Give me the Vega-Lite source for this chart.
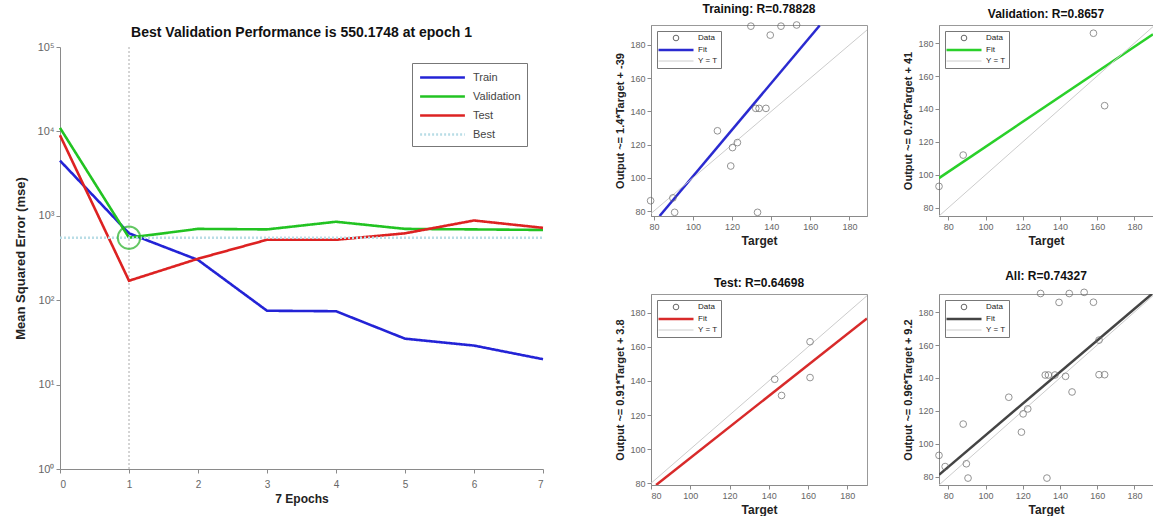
{
  "$schema": "https://vega.github.io/schema/vega-lite/v6.json",
  "background": "white",
  "padding": {"left": 14, "top": 2, "right": 0, "bottom": 0},
  "config": {
    "font": "Liberation Sans",
    "view": {"stroke": null},
    "axis": {"grid": false, "labelColor": "#666", "labelFontSize": 10, "labelOverlap": false, "domainColor": "#8a8a8a", "tickColor": "#8a8a8a", "tickSize": 4, "titleFontWeight": "bold", "titleColor": "#222", "titleFontSize": 12},
    "title": {"fontWeight": "bold", "color": "#111", "fontSize": 12, "offset": 4}
  },
  "datasets": {
    "perf": [
      {"epoch": 0, "mse": 4500, "series": "Train"},
      {"epoch": 1, "mse": 620, "series": "Train"},
      {"epoch": 2, "mse": 300, "series": "Train"},
      {"epoch": 3, "mse": 75, "series": "Train"},
      {"epoch": 4, "mse": 74, "series": "Train"},
      {"epoch": 5, "mse": 35, "series": "Train"},
      {"epoch": 6, "mse": 29, "series": "Train"},
      {"epoch": 7, "mse": 20, "series": "Train"},
      {"epoch": 0, "mse": 11000, "series": "Validation"},
      {"epoch": 1, "mse": 550.1748, "series": "Validation"},
      {"epoch": 2, "mse": 700, "series": "Validation"},
      {"epoch": 3, "mse": 690, "series": "Validation"},
      {"epoch": 4, "mse": 850, "series": "Validation"},
      {"epoch": 5, "mse": 700, "series": "Validation"},
      {"epoch": 6, "mse": 690, "series": "Validation"},
      {"epoch": 7, "mse": 680, "series": "Validation"},
      {"epoch": 0, "mse": 9000, "series": "Test"},
      {"epoch": 1, "mse": 170, "series": "Test"},
      {"epoch": 2, "mse": 310, "series": "Test"},
      {"epoch": 3, "mse": 520, "series": "Test"},
      {"epoch": 4, "mse": 520, "series": "Test"},
      {"epoch": 5, "mse": 620, "series": "Test"},
      {"epoch": 6, "mse": 880, "series": "Test"},
      {"epoch": 7, "mse": 720, "series": "Test"},
      {"epoch": 0, "mse": 550.1748, "series": "Best"},
      {"epoch": 7, "mse": 550.1748, "series": "Best"}
    ],
    "best": [{"epoch": 1, "mse": 550.1748}],
    "pts": [
      {"panel": "Training", "target": 78.3, "output": 86.2},
      {"panel": "Training", "target": 89.7, "output": 87.9},
      {"panel": "Training", "target": 90.6, "output": 79.2},
      {"panel": "Training", "target": 112.5, "output": 128.3},
      {"panel": "Training", "target": 119.3, "output": 107.1},
      {"panel": "Training", "target": 120.2, "output": 118.2},
      {"panel": "Training", "target": 122.7, "output": 121.2},
      {"panel": "Training", "target": 129.6, "output": 191.3},
      {"panel": "Training", "target": 133, "output": 79.2},
      {"panel": "Training", "target": 132.1, "output": 141.8},
      {"panel": "Training", "target": 133.8, "output": 141.8},
      {"panel": "Training", "target": 137.3, "output": 141.8},
      {"panel": "Training", "target": 139.5, "output": 185.9},
      {"panel": "Training", "target": 145, "output": 191.3},
      {"panel": "Training", "target": 153, "output": 192},
      {"panel": "Validation", "target": 75, "output": 93},
      {"panel": "Validation", "target": 88, "output": 112},
      {"panel": "Validation", "target": 158, "output": 186},
      {"panel": "Validation", "target": 164, "output": 142},
      {"panel": "Test", "target": 143, "output": 141},
      {"panel": "Test", "target": 146.5, "output": 131.5},
      {"panel": "Test", "target": 161, "output": 163},
      {"panel": "Test", "target": 161, "output": 142}
    ],
    "fits": [
      {"panel": "Training", "series": "Fit", "target": 82.9, "output": 77},
      {"panel": "Training", "series": "Fit", "target": 164.8, "output": 191.7},
      {"panel": "Training", "series": "Y = T", "target": 78.5, "output": 78.5},
      {"panel": "Training", "series": "Y = T", "target": 189, "output": 189},
      {"panel": "Validation", "series": "Fit", "target": 75, "output": 98},
      {"panel": "Validation", "series": "Fit", "target": 190, "output": 185.4},
      {"panel": "Validation", "series": "Y = T", "target": 75, "output": 75},
      {"panel": "Validation", "series": "Y = T", "target": 190, "output": 190},
      {"panel": "Test", "series": "Fit", "target": 82.6, "output": 79},
      {"panel": "Test", "series": "Fit", "target": 190, "output": 176.7},
      {"panel": "Test", "series": "Y = T", "target": 80, "output": 80},
      {"panel": "Test", "series": "Y = T", "target": 190, "output": 190},
      {"panel": "All", "series": "Fit", "target": 75, "output": 81.2},
      {"panel": "All", "series": "Fit", "target": 189.4, "output": 191},
      {"panel": "All", "series": "Y = T", "target": 75, "output": 75},
      {"panel": "All", "series": "Y = T", "target": 190, "output": 190}
    ]
  },
  "hconcat": [
    {
      "vconcat": [
        {
          "width": 483, "height": 1,
          "data": {"values": []},
          "mark": {"type": "point", "opacity": 0},
          "encoding": {}
        },
        {
          "width": 483,
          "height": 422,
          "title": {"text": "Best Validation Performance is 550.1748 at epoch 1", "fontSize": 14, "offset": 1},
          "encoding": {
            "x": {"field": "epoch", "type": "quantitative", "scale": {"domain": [0, 7], "nice": false}, "axis": {"values": [0, 1, 2, 3, 4, 5, 6, 7], "format": "d", "title": "7 Epochs", "titlePadding": 4, "labelPadding": 6, "labelOverlap": false}},
            "y": {"field": "mse", "type": "quantitative", "scale": {"type": "log", "domain": [1, 100000], "nice": false}, "axis": {"values": [1, 10, 100, 1000, 10000, 100000], "labelOverlap": false, "labelExpr": "'10' + ['⁰','¹','²','³','⁴','⁵'][round(log(datum.value)/LN10)]", "labelFontSize": 11, "title": "Mean Squared Error  (mse)", "titleFontSize": 13, "titlePadding": 10}}
          },
          "layer": [
            {
              "data": {"name": "best"},
              "mark": {"type": "rule", "color": "#aaaaaa", "strokeDash": [2, 2], "strokeWidth": 1},
              "encoding": {"y": {"value": 0}, "y2": {"value": 422}}
            },
            {
              "data": {"name": "perf"},
              "mark": {"type": "line"},
              "encoding": {
                "color": {"field": "series", "type": "nominal", "scale": {"domain": ["Train", "Validation", "Test", "Best"], "range": ["#2323d6", "#22c322", "#dd2222", "#b9dde6"]},
                  "legend": {"title": null, "orient": "top-right", "offset": 16, "symbolType": "M-3.2,0H3.2", "symbolSize": 196, "symbolOffset": 16, "labelOffset": 22, "symbolStrokeWidth": 3, "labelFontSize": 11, "labelColor": "#444", "rowPadding": 5, "padding": 6, "strokeColor": "#777", "fillColor": "white",
                    "encode": {"symbols": {"update": {"strokeDash": {"signal": "datum.value === 'Best' ? [2,2] : [1,0]"}, "strokeWidth": {"signal": "datum.value === 'Best' ? 1.5 : 3"}}}}}},
                "strokeDash": {"field": "series", "type": "nominal", "scale": {"domain": ["Train", "Validation", "Test", "Best"], "range": [[1, 0], [1, 0], [1, 0], [2, 2]]}, "legend": null},
                "strokeWidth": {"field": "series", "type": "nominal", "scale": {"domain": ["Train", "Validation", "Test", "Best"], "range": [2.6, 2.6, 2.6, 1.2]}, "legend": null}
              }
            },
            {
              "data": {"name": "best"},
              "mark": {"type": "point", "shape": "circle", "filled": false, "color": "#22b022", "size": 500, "strokeWidth": 2},
              "encoding": {}
            }
          ]
        }
      ],
      "spacing": 0,
      "resolve": {"scale": {"color": "independent", "strokeWidth": "independent", "strokeDash": "independent"}, "legend": {"color": "independent"}}
    },
    {
      "vconcat": [
        {
          "hconcat": [
            {
              "width": 216, "height": 191,
              "title": "Training: R=0.78828",
              "view": {"stroke": "#999"},
              "encoding": {
                "x": {"field": "target", "type": "quantitative", "scale": {"domain": [78.5, 189], "nice": false, "zero": false}, "axis": {"values": [80, 100, 120, 140, 160, 180], "labelOverlap": false, "title": "Target", "labelFontSize": 9}},
                "y": {"field": "output", "type": "quantitative", "scale": {"domain": [77, 192], "nice": false, "zero": false}, "axis": {"values": [80, 100, 120, 140, 160, 180], "labelOverlap": false, "title": "Output ~= 1.4*Target + -39", "labelFontSize": 9, "titleFontSize": 11}}
              },
              "layer": [
                {"data": {"name": "fits"}, "transform": [{"filter": "datum.panel === 'Training'"}],
                 "mark": {"type": "line", "clip": true},
                 "encoding": {
                   "color": {"field": "series", "type": "nominal", "scale": {"domain": ["Data", "Fit", "Y = T"], "range": ["#666", "#2a2ad0", "#cccccc"]},
                     "legend": {"title": null, "orient": "top-left", "offset": 6, "symbolType": "M-3.5,0H3.5", "symbolSize": 100, "symbolOffset": 12, "labelOffset": 18, "symbolStrokeWidth": 1, "labelFontSize": 8, "labelColor": "#222", "rowPadding": 2, "padding": 3, "strokeColor": "#777", "fillColor": "white",
                       "encode": {"symbols": {"update": {"shape": {"signal": "datum.value === 'Data' ? 'circle' : 'M-3.5,0H3.5'"}, "size": {"signal": "datum.value === 'Data' ? 32 : 100"}, "strokeWidth": {"signal": "datum.value === 'Fit' ? 2.5 : 1"}, "fill": {"value": "transparent"}}}}}},
                   "strokeWidth": {"field": "series", "type": "nominal", "scale": {"domain": ["Fit", "Y = T"], "range": [2.5, 1]}, "legend": null}
                 }},
                {"data": {"name": "pts"}, "transform": [{"filter": "datum.panel === 'Training'"}],
                 "mark": {"type": "point", "shape": "circle", "filled": false, "color": "#666", "size": 45, "strokeWidth": 1},
                 "encoding": {}}
              ]
            },
            {
              "width": 214, "height": 191,
              "title": "Validation: R=0.8657",
              "view": {"stroke": "#999"},
              "encoding": {
                "x": {"field": "target", "type": "quantitative", "scale": {"domain": [75, 190], "nice": false, "zero": false}, "axis": {"values": [80, 100, 120, 140, 160, 180], "labelOverlap": false, "title": "Target", "labelFontSize": 9}},
                "y": {"field": "output", "type": "quantitative", "scale": {"domain": [75, 191], "nice": false, "zero": false}, "axis": {"values": [80, 100, 120, 140, 160, 180], "labelOverlap": false, "title": "Output ~= 0.76*Target + 41", "labelFontSize": 9, "titleFontSize": 11}}
              },
              "layer": [
                {"data": {"name": "fits"}, "transform": [{"filter": "datum.panel === 'Validation'"}],
                 "mark": {"type": "line", "clip": true},
                 "encoding": {
                   "color": {"field": "series", "type": "nominal", "scale": {"domain": ["Data", "Fit", "Y = T"], "range": ["#666", "#2ad02a", "#cccccc"]},
                     "legend": {"title": null, "orient": "top-left", "offset": 6, "symbolType": "M-3.5,0H3.5", "symbolSize": 100, "symbolOffset": 12, "labelOffset": 18, "symbolStrokeWidth": 1, "labelFontSize": 8, "labelColor": "#222", "rowPadding": 2, "padding": 3, "strokeColor": "#777", "fillColor": "white",
                       "encode": {"symbols": {"update": {"shape": {"signal": "datum.value === 'Data' ? 'circle' : 'M-3.5,0H3.5'"}, "size": {"signal": "datum.value === 'Data' ? 32 : 100"}, "strokeWidth": {"signal": "datum.value === 'Fit' ? 2.5 : 1"}, "fill": {"value": "transparent"}}}}}},
                   "strokeWidth": {"field": "series", "type": "nominal", "scale": {"domain": ["Fit", "Y = T"], "range": [2.5, 1]}, "legend": null}
                 }},
                {"data": {"name": "pts"}, "transform": [{"filter": "datum.panel === 'Validation'"}],
                 "mark": {"type": "point", "shape": "circle", "filled": false, "color": "#666", "size": 45, "strokeWidth": 1},
                 "encoding": {}}
              ]
            }
          ],
          "spacing": 34,
          "resolve": {"scale": {"color": "independent", "strokeWidth": "independent"}}
        },
        {
          "hconcat": [
            {
              "width": 216, "height": 191,
              "title": "Test: R=0.64698",
              "view": {"stroke": "#999"},
              "encoding": {
                "x": {"field": "target", "type": "quantitative", "scale": {"domain": [80, 190], "nice": false, "zero": false}, "axis": {"values": [80, 100, 120, 140, 160, 180], "labelOverlap": false, "title": "Target", "labelFontSize": 9}},
                "y": {"field": "output", "type": "quantitative", "scale": {"domain": [79, 191], "nice": false, "zero": false}, "axis": {"values": [80, 100, 120, 140, 160, 180], "labelOverlap": false, "title": "Output ~= 0.91*Target + 3.8", "labelFontSize": 9, "titleFontSize": 11}}
              },
              "layer": [
                {"data": {"name": "fits"}, "transform": [{"filter": "datum.panel === 'Test'"}],
                 "mark": {"type": "line", "clip": true},
                 "encoding": {
                   "color": {"field": "series", "type": "nominal", "scale": {"domain": ["Data", "Fit", "Y = T"], "range": ["#666", "#d82a2a", "#cccccc"]},
                     "legend": {"title": null, "orient": "top-left", "offset": 6, "symbolType": "M-3.5,0H3.5", "symbolSize": 100, "symbolOffset": 12, "labelOffset": 18, "symbolStrokeWidth": 1, "labelFontSize": 8, "labelColor": "#222", "rowPadding": 2, "padding": 3, "strokeColor": "#777", "fillColor": "white",
                       "encode": {"symbols": {"update": {"shape": {"signal": "datum.value === 'Data' ? 'circle' : 'M-3.5,0H3.5'"}, "size": {"signal": "datum.value === 'Data' ? 32 : 100"}, "strokeWidth": {"signal": "datum.value === 'Fit' ? 2.5 : 1"}, "fill": {"value": "transparent"}}}}}},
                   "strokeWidth": {"field": "series", "type": "nominal", "scale": {"domain": ["Fit", "Y = T"], "range": [2.5, 1]}, "legend": null}
                 }},
                {"data": {"name": "pts"}, "transform": [{"filter": "datum.panel === 'Test'"}],
                 "mark": {"type": "point", "shape": "circle", "filled": false, "color": "#666", "size": 45, "strokeWidth": 1},
                 "encoding": {}}
              ]
            },
            {
              "width": 214, "height": 191,
              "title": "All: R=0.74327",
              "view": {"stroke": "#999"},
              "encoding": {
                "x": {"field": "target", "type": "quantitative", "scale": {"domain": [75, 190], "nice": false, "zero": false}, "axis": {"values": [80, 100, 120, 140, 160, 180], "labelOverlap": false, "title": "Target", "labelFontSize": 9}},
                "y": {"field": "output", "type": "quantitative", "scale": {"domain": [75, 191], "nice": false, "zero": false}, "axis": {"values": [80, 100, 120, 140, 160, 180], "labelOverlap": false, "title": "Output ~= 0.96*Target + 9.2", "labelFontSize": 9, "titleFontSize": 11}}
              },
              "layer": [
                {"data": {"name": "fits"}, "transform": [{"filter": "datum.panel === 'All'"}],
                 "mark": {"type": "line", "clip": true},
                 "encoding": {
                   "color": {"field": "series", "type": "nominal", "scale": {"domain": ["Data", "Fit", "Y = T"], "range": ["#666", "#444444", "#cccccc"]},
                     "legend": {"title": null, "orient": "top-left", "offset": 6, "symbolType": "M-3.5,0H3.5", "symbolSize": 100, "symbolOffset": 12, "labelOffset": 18, "symbolStrokeWidth": 1, "labelFontSize": 8, "labelColor": "#222", "rowPadding": 2, "padding": 3, "strokeColor": "#777", "fillColor": "white",
                       "encode": {"symbols": {"update": {"shape": {"signal": "datum.value === 'Data' ? 'circle' : 'M-3.5,0H3.5'"}, "size": {"signal": "datum.value === 'Data' ? 32 : 100"}, "strokeWidth": {"signal": "datum.value === 'Fit' ? 2.5 : 1"}, "fill": {"value": "transparent"}}}}}},
                   "strokeWidth": {"field": "series", "type": "nominal", "scale": {"domain": ["Fit", "Y = T"], "range": [2.5, 1]}, "legend": null}
                 }},
                {"data": {"name": "pts"},
                 "mark": {"type": "point", "shape": "circle", "filled": false, "color": "#666", "size": 45, "strokeWidth": 1},
                 "encoding": {}}
              ]
            }
          ],
          "spacing": 34,
          "resolve": {"scale": {"color": "independent", "strokeWidth": "independent"}}
        }
      ],
      "spacing": 22,
      "resolve": {"scale": {"color": "independent", "strokeWidth": "independent"}}
    }
  ],
  "spacing": 65,
  "resolve": {"scale": {"color": "independent", "strokeWidth": "independent", "strokeDash": "independent"}}
}
